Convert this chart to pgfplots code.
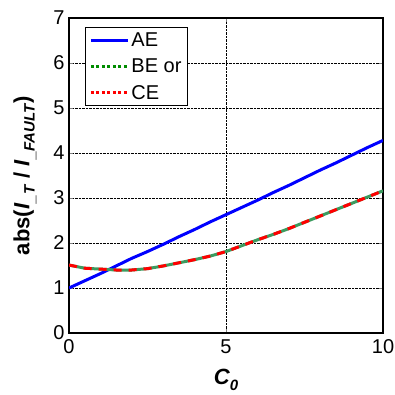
\documentclass[border=0pt]{standalone}
\usepackage{pgfplots}
\pgfplotsset{compat=1.18}
\usepackage{fontspec}
\setmainfont{Liberation Sans}
\definecolor{legGreen}{RGB}{0,140,0}
\definecolor{plotGreen}{RGB}{60,155,95}
\begin{document}
\begin{tikzpicture}
\begin{axis}[
  width=314pt, height=315pt, scale only axis,
  xmin=0, xmax=10, ymin=0, ymax=7,
  xtick={0,5,10}, ytick={0,1,2,3,4,5,6,7},
  /pgf/number format/assume math mode=true,
  tick label style={font=\fontsize{20}{22}\selectfont},
  xticklabel style={yshift=-3pt},
  yticklabel style={xshift=-1pt},
  tick align=inside, major tick length=4pt,
  xtick pos=both, ytick pos=both,
  axis line style={line width=1.2pt},
  grid=major,
  major grid style={densely dotted, black, line width=0.6pt},
  xlabel={\textbf{\textit{C}}\raisebox{-0.45ex}{\fontsize{15}{16}\selectfont\textbf{\textit{0}}}},
  ylabel={\textbf{abs(\textit{I}\raisebox{-0.45ex}{\fontsize{15}{16}\selectfont\textbf{\textit{\_T}}} / \textit{I}\raisebox{-0.45ex}{\fontsize{15}{16}\selectfont\textbf{\textit{\_FAULT}}})}},
  xlabel style={font=\fontsize{22}{24}\selectfont, at={(axis description cs:0.5,-0.105)}, anchor=north},
  ylabel style={font=\fontsize{22}{24}\selectfont, at={(axis description cs:-0.14,0.5)}, anchor=center},
  legend style={at={(rel axis cs:0.051,0.971)}, anchor=north west,
    font=\fontsize{20}{22}\selectfont, draw=black, line width=0.8pt,
    inner xsep=4pt, inner ysep=3pt, row sep=7pt,
    legend cell align=left},
  legend image code/.code={\draw[#1] (0cm,0cm) -- (37pt,0cm);},
]
\addlegendimage{blue, line width=3pt}
\addlegendentry{AE}
\addlegendimage{legGreen, line width=3pt, dash pattern=on 3pt off 2.5pt}
\addlegendentry{BE or}
\addlegendimage{red, line width=3pt, dash pattern=on 3pt off 2.5pt}
\addlegendentry{CE}

\addplot[blue, line width=3pt, forget plot] coordinates {
(0,1.00) (0.5,1.16) (1,1.32) (1.5,1.49) (2,1.66) (2.5,1.81) (3,1.97) (3.5,2.14) (4,2.30)
(4.5,2.47) (5,2.63) (5.5,2.79) (6,2.95) (6.5,3.12) (7,3.28) (7.5,3.45) (8,3.62)
(8.5,3.78) (9,3.95) (9.5,4.12) (10,4.28)};

\addplot[plotGreen, line width=3pt, forget plot] coordinates {
(0,1.51) (0.5,1.44) (1,1.42) (1.5,1.40) (2,1.40) (2.5,1.43) (3,1.49) (3.5,1.56) (4,1.63)
(4.5,1.71) (5,1.81) (5.5,1.94) (6,2.07) (6.5,2.19) (7,2.32) (7.5,2.46) (8,2.60)
(8.5,2.74) (9,2.88) (9.5,3.02) (10,3.16)};
\addplot[red, line width=3pt, dash pattern=on 8pt off 7pt, forget plot] coordinates {
(0,1.51) (0.5,1.44) (1,1.42) (1.5,1.40) (2,1.40) (2.5,1.43) (3,1.49) (3.5,1.56) (4,1.63)
(4.5,1.71) (5,1.81) (5.5,1.94) (6,2.07) (6.5,2.19) (7,2.32) (7.5,2.46) (8,2.60)
(8.5,2.74) (9,2.88) (9.5,3.02) (10,3.16)};

\coordinate (sw) at (rel axis cs:0,0);
\coordinate (ne) at (rel axis cs:1,1);
\end{axis}
\pgfresetboundingbox
\path (sw) ++(-69pt,-61pt) coordinate (bl);
\path (ne) ++(12pt,18pt) coordinate (tr);
\path[use as bounding box] (bl) rectangle (tr);
\end{tikzpicture}
\end{document}
